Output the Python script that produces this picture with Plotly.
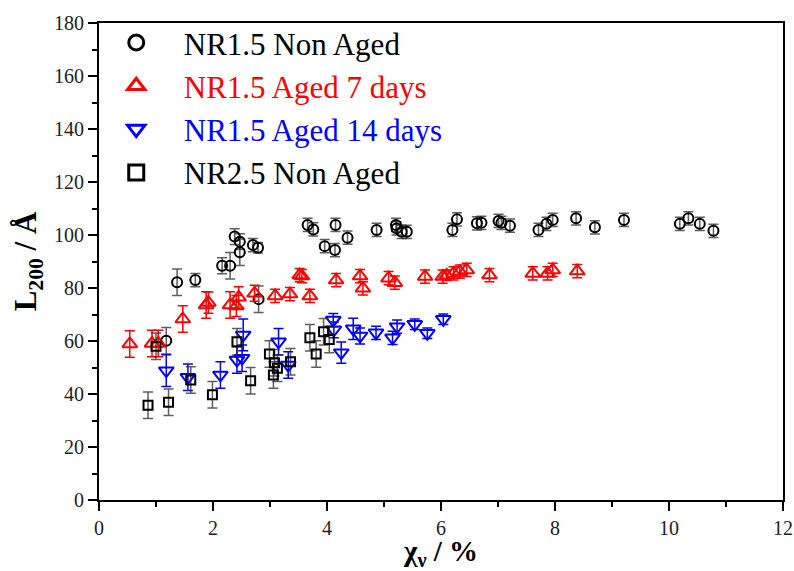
import plotly.graph_objects as go

# NR1.5 Non Aged
nr15_x = [1.18, 1.37, 1.69, 2.16, 2.30, 2.38, 2.47, 2.47, 2.70, 2.79, 2.80, 3.66, 3.76, 3.96, 4.14,
          4.15, 4.36, 4.87, 5.21, 5.22, 5.31, 5.40, 6.20, 6.28, 6.63, 6.71, 7.01, 7.06, 7.21,
          7.71, 7.85, 7.96, 8.37, 8.70, 9.21, 10.19, 10.34, 10.54, 10.78]
nr15_y = [60.1, 82.2, 83.0, 88.4, 88.4, 99.4, 97.5, 93.5, 96.2, 95.2, 75.8, 103.8, 102.1, 95.8, 94.3,
          103.8, 99.0, 101.9, 103.8, 102.5, 101.2, 101.2, 101.9, 105.9, 104.4, 104.6, 105.3, 104.6, 103.5,
          101.9, 104.2, 105.7, 106.3, 102.9, 105.7, 104.2, 106.3, 104.2, 101.6]
nr15_err = [5, 5, 2.5, 3, 5, 3, 3, 5, 2.5, 2, 5, 2.5, 2.5, 2.5, 2.5,
            2.5, 2.5, 2.5, 2.5, 2.5, 2.5, 2.5, 2.5, 2.5, 2.5, 2.5, 2.5, 2.5, 2.5,
            2.5, 2.5, 2.5, 2.5, 2.5, 2.5, 2.5, 2.5, 2.5, 2.5]

# NR1.5 Aged 7 days
aged7_x = [0.54, 0.93, 1.04, 1.47, 1.88, 1.92, 2.30, 2.41, 2.45, 2.73, 3.09, 3.35, 3.52, 3.56, 3.70,
           4.16, 4.58, 4.63, 5.08, 5.19, 5.72, 6.03, 6.10, 6.22, 6.33, 6.45, 6.85, 7.61, 7.87, 7.96, 8.39]
aged7_y = [58.9, 59.1, 59.1, 68.3, 73.6, 74.5, 73.6, 73.2, 76.5, 78.0, 77.0, 77.7, 84.9, 84.5, 77.0,
           83.0, 84.5, 79.9, 83.7, 82.0, 84.3, 84.3, 84.8, 85.5, 86.2, 86.8, 84.9, 85.5, 85.5, 86.8, 86.4]
aged7_err = [5, 5, 5, 5, 5, 4, 5, 4, 4, 3, 2.5, 2.5, 2.5, 2.5, 2.5,
             2.5, 2.5, 2.5, 2.5, 2.5, 2.5, 2.5, 2, 2.5, 2.5, 2.5, 2.5, 2.5, 2.5, 2.5, 2.5]

# NR1.5 Aged 14 days
aged14_x = [1.18, 1.56, 2.13, 2.42, 2.51, 2.53, 3.15, 3.32, 4.11, 4.12, 4.25, 4.46, 4.58, 4.86,
            5.15, 5.23, 5.54, 5.76, 6.04]
aged14_y = [48.8, 46.3, 47.2, 52.8, 53.5, 62.3, 59.7, 50.9, 67.9, 64.2, 55.6, 64.6, 61.9, 63.1,
            61.2, 65.4, 66.3, 62.9, 68.2]
aged14_err = [6, 5, 5, 5, 5, 6, 5, 5, 2.5, 3, 4, 4, 3, 2.5, 2.5, 2.5, 2, 2, 2]

# NR2.5 Non Aged
nr25_x = [0.86, 1.00, 1.22, 1.61, 1.99, 2.42, 2.66, 2.99, 3.06, 3.08, 3.13, 3.36, 3.70, 3.81, 3.94, 4.04]
nr25_y = [35.8, 58.0, 36.9, 45.3, 39.7, 59.7, 45.0, 55.1, 47.2, 51.8, 49.7, 52.2, 61.2, 55.1, 63.5, 60.6]
nr25_err = [5, 5, 5, 5, 5, 5, 5, 5, 5, 5, 5, 5, 5, 5, 5, 5]

series = [
    ("NR1.5 Non Aged", nr15_x, nr15_y, nr15_err, "circle-open", "black", "rgba(40,40,40,0.75)", 10),
    ("NR1.5 Aged 7 days", aged7_x, aged7_y, aged7_err, "triangle-up-open", "#ff0000", "#ff0000", 13),
    ("NR1.5 Aged 14 days", aged14_x, aged14_y, aged14_err, "triangle-down-open", "#0000ff", "#0000ff", 13),
    ("NR2.5 Non Aged", nr25_x, nr25_y, nr25_err, "square-open", "black", "rgba(40,40,40,0.75)", 9),
]

FONT = "Liberation Serif"

fig = go.Figure()
for name, x, y, err, sym, col, errcol, size in series:
    fig.add_trace(go.Scatter(
        x=x, y=y, mode="markers", showlegend=False,
        marker=dict(symbol=sym, size=size, color=col, line=dict(width=2, color=col)),
        error_y=dict(type="data", array=err, visible=True, color=errcol, thickness=1.5, width=5),
    ))

# legend entries (bigger symbols, coloured text)
for i, (name, x, y, err, sym, col, errcol, size) in enumerate(series):
    fig.add_trace(go.Scatter(
        x=[None], y=[None], mode="markers", legendgroup=str(i),
        name=f"<span style='color:{col}'>{name}</span>",
        marker=dict(symbol=sym, size=15, color=col, line=dict(width=3, color=col)),
    ))

fig.update_layout(
    width=794, height=571,
    margin=dict(l=99, r=11, t=23, b=71),
    plot_bgcolor="white", paper_bgcolor="white",
    font=dict(family=FONT, color="#222", size=20),
    showlegend=True,
    legend=dict(x=-0.015, y=1.015, xanchor="left", yanchor="top", bgcolor="rgba(0,0,0,0)",
                font=dict(size=31, family=FONT), tracegroupgap=0, itemwidth=85),
)
fig.update_xaxes(
    range=[0, 12], dtick=2, ticks="outside", ticklen=9, tickwidth=2, tickcolor="black",
    showline=True, linewidth=2, linecolor="black", mirror=True, showgrid=False, zeroline=False,
    minor=dict(dtick=1, ticks="outside", ticklen=5, tickwidth=2, tickcolor="black"),
    tickfont=dict(size=20), automargin=False,
    title=dict(text="<b>χ<sub>ν</sub> / %</b>", font=dict(size=29, color="black"), standoff=13),
)
fig.update_yaxes(
    range=[0, 180], dtick=20, ticks="outside", ticklen=9, tickwidth=2, tickcolor="black",
    showline=True, linewidth=2, linecolor="black", mirror=True, showgrid=False, zeroline=False,
    minor=dict(dtick=10, ticks="outside", ticklen=5, tickwidth=2, tickcolor="black"),
    tickfont=dict(size=20), automargin=False,
    title=dict(text="<b>L<sub>200</sub> / Å</b>", font=dict(size=31, color="black"), standoff=8),
)

# drop the default 8px page margin so the figure fills the window exactly
fig.write_html("out.html", config={"displayModeBar": False},
               post_script="document.body.style.margin = '0';")
